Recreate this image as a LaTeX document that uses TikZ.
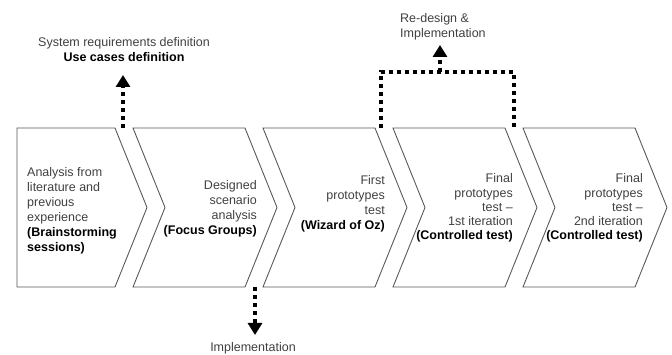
\documentclass[tikz,border=0pt]{standalone}
\usepackage{fontspec}
\setmainfont{Liberation Sans}
\usetikzlibrary{arrows.meta}

\newcommand{\method}[1]{{\color{black}\bfseries #1}}

\begin{document}
\begin{tikzpicture}[x=1pt, y=-1pt,
    font=\fontsize{12.5}{15}\selectfont,
    stage/.style={draw=black!65, line width=0.9pt},
    stagetext/.style={inner sep=0pt, text=black!75},
    note/.style={inner sep=0pt, text=black!75},
    dotline/.style={line width=4pt, dash pattern=on 4pt off 4pt},
    dotarrow/.style={dotline, -{Triangle[width=14pt, length=12pt]}}]
    \useasboundingbox (0,0) rectangle (672,355);

    % Draw process stages
    \draw[stage] (17,128) -- (115,128) -- (147,207.5) -- (115,287) -- (17,287) -- cycle;
    \foreach \o in {0, 130, 260, 390}
        \draw[stage] (133+\o,128) -- (245+\o,128) -- (277+\o,207.5) -- (245+\o,287) -- (133+\o,287) -- (165+\o,207.5) -- cycle;

    % Stage texts
    \node[stagetext, anchor=west, align=left] (analysis) at (27,211) {Analysis from\\literature and\\previous\\experience\\\method{(Brainstorming}\\\method{sessions)}};
    \node[stagetext, anchor=east, align=right] (scenario) at (257,209) {Designed\\scenario\\analysis\\\method{(Focus Groups)}};
    \node[stagetext, anchor=east, align=right] (wizard) at (385,204) {First\\prototypes\\test\\\method{(Wizard of Oz)}};
    \node[stagetext, anchor=east, align=right, font=\fontsize{12.5}{14.2}\selectfont] (final1) at (513,208) {Final\\prototypes\\test –\\1st iteration\\\method{(Controlled test)}};
    \node[stagetext, anchor=east, align=right, font=\fontsize{12.5}{14.2}\selectfont] (final2) at (643,208) {Final\\prototypes\\test –\\2nd iteration\\\method{(Controlled test)}};

    % Gaps between stages
    \coordinate (g1) at (123,128);
    \coordinate (g2) at (255,287);
    \coordinate (g3) at (381,128);
    \coordinate (g4) at (514,128);
    \coordinate (loop) at (440,72);

    % Outcome notes
    \node[note, align=center] (req) at (124,50) {System requirements definition\\\method{Use cases definition}};
    \node[note, anchor=west, align=left] (redesign) at (400,27) {Re-design \&\\Implementation};
    \node[note, anchor=base] (impl) at (253,352) {Implementation};
    \coordinate (reqtip) at (123,75);
    \coordinate (redesigntip) at (440,45);
    \coordinate (impltip) at (255,335);

    % Dotted arrows
    \draw[dotarrow] (g1) -- (reqtip);
    \draw[dotarrow] (g2) -- (impltip);
    \draw[dotline] (g3) |- (loop) -| (g4);
    \draw[dotarrow] (loop) -- (redesigntip);
\end{tikzpicture}
\end{document}
